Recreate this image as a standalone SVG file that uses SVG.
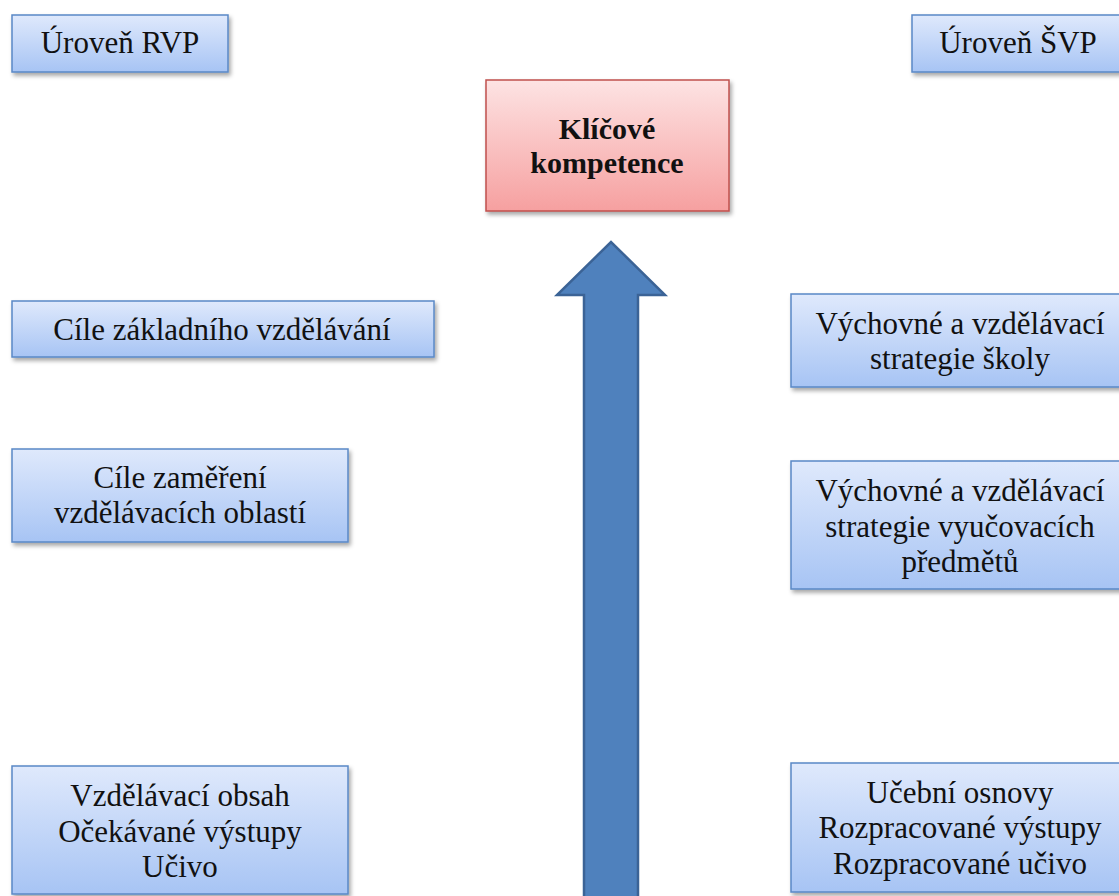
<svg xmlns="http://www.w3.org/2000/svg" width="1119" height="896" viewBox="0 0 1119 896">
<style>
.bx{fill:url(#gb);stroke:#5a88c6;stroke-width:1.5;filter:url(#sh)}
.rx{fill:url(#gr);stroke:#c0504d;stroke-width:1.5;filter:url(#sh)}
.t{font-family:'Liberation Serif','Times New Roman',Times,'DejaVu Serif',serif;font-size:31px;fill:#111;text-anchor:middle}
.b{font-weight:bold;font-size:30px}
</style>
<defs>
<linearGradient id="gb" x1="0" y1="0" x2="0" y2="1"><stop offset="0" stop-color="#dfe9fc"/><stop offset="1" stop-color="#a7c4f4"/></linearGradient>
<linearGradient id="gr" x1="0" y1="0" x2="0" y2="1"><stop offset="0" stop-color="#fde3e3"/><stop offset="1" stop-color="#f6a0a0"/></linearGradient>
<filter id="sh" x="-10%" y="-10%" width="130%" height="140%"><feDropShadow dx="2" dy="3" stdDeviation="2" flood-color="#000" flood-opacity="0.35"/></filter>
</defs>
<g id="connectors">
<path d="M584,896 V295 H557 L611,242 L665,295 H638 V896" fill="#4f81bd" stroke="#3b6396" stroke-width="2.5" stroke-linejoin="miter"/>
</g>
<g id="uroven-rvp" class="t"><rect class="bx" x="12" y="15" width="216" height="57"/><text x="120" y="53">Úroveň RVP</text></g>
<g id="uroven-svp" class="t"><rect class="bx" x="912" y="15" width="216" height="57"/><text x="1018" y="53">Úroveň ŠVP</text></g>
<g id="klicove-kompetence" class="t"><rect class="rx" x="486" y="80" width="243" height="131"/><text class="b" x="607" y="139">Klíčové</text><text class="b" x="607" y="173">kompetence</text></g>
<g id="cile-zakladniho" class="t"><rect class="bx" x="12" y="301" width="422" height="56"/><text x="222" y="340">Cíle základního vzdělávání</text></g>
<g id="cile-zamereni" class="t"><rect class="bx" x="12" y="449" width="336" height="93"/><text x="180" y="488">Cíle zaměření</text><text x="180" y="523">vzdělávacích oblastí</text></g>
<g id="vzdelavaci-obsah" class="t"><rect class="bx" x="12" y="766" width="336" height="128"/><text x="180" y="806">Vzdělávací obsah</text><text x="180" y="842">Očekávané výstupy</text><text x="180" y="877">Učivo</text></g>
<g id="strategie-skoly" class="t"><rect class="bx" x="791" y="294" width="337" height="93"/><text x="960" y="334">Výchovné a vzdělávací</text><text x="960" y="369">strategie školy</text></g>
<g id="strategie-predmetu" class="t"><rect class="bx" x="791" y="461" width="337" height="128"/><text x="960" y="501">Výchovné a vzdělávací</text><text x="960" y="537">strategie vyučovacích</text><text x="960" y="572">předmětů</text></g>
<g id="ucebni-osnovy" class="t"><rect class="bx" x="791" y="763" width="337" height="129"/><text x="960" y="803">Učební osnovy</text><text x="960" y="838">Rozpracované výstupy</text><text x="960" y="874">Rozpracované učivo</text></g>
</svg>
